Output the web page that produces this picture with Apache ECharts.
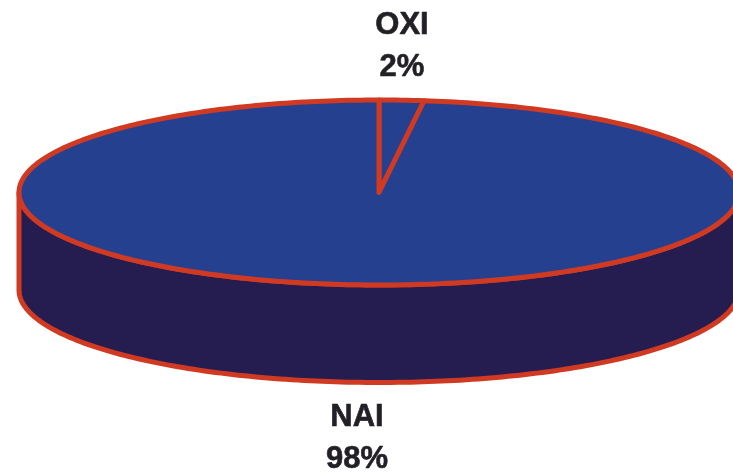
<!DOCTYPE html>
<html>
<head>
<meta charset="utf-8">
<style>html,body{margin:0;padding:0;background:#fff}#c{width:733px;height:472px}</style>
<script src="https://cdn.jsdelivr.net/npm/echarts@6/dist/echarts.min.js"></script>
</head>
<body>
<div id="c"></div>
<script>
const categories = ['OXI', 'NAI'];
const shares = [2, 98];

const cx = 379, cy = 192.5, rx = 360, ry = 92.5, depth = 97.5;
const strokeColor = '#d03a22', topColor = '#25408f', sideColor = '#251c50', textColor = '#231f26';
const labelPos = { OXI: [402, 46.5], NAI: [357, 438] };
const total = shares.reduce((a, b) => a + b, 0);

function pt(t, dy) { // t: fraction of the circle, clockwise from the top
  const a = t * 2 * Math.PI;
  return [cx + rx * Math.sin(a), cy - ry * Math.cos(a) + (dy || 0)];
}
function arc(t0, t1, dy) {
  const n = Math.max(2, Math.ceil((t1 - t0) * 360));
  const out = [];
  for (let i = 0; i <= n; i++) out.push(pt(t0 + (t1 - t0) * i / n, dy));
  return out;
}
function renderItem(params, api) {
  const idx = params.dataIndex;
  const before = shares.slice(0, idx).reduce((a, b) => a + b, 0);
  const t0 = before / total, t1 = (before + api.value(1)) / total;
  const style = { lineWidth: 5, stroke: strokeColor, lineJoin: 'round' };
  const children = [];
  const w0 = Math.max(t0, 0.25), w1 = Math.min(t1, 0.75);
  if (w1 > w0) {
    const top = arc(w0, w1, 0), bot = arc(w0, w1, depth).reverse();
    children.push({ type: 'polygon', shape: { points: top.concat(bot) },
      style: Object.assign({ fill: sideColor }, style) });
  }
  children.push({ type: 'polygon', shape: { points: [[cx, cy]].concat(arc(t0, t1, 0)) },
    style: Object.assign({ fill: topColor }, style) });
  const name = categories[idx];
  children.push({ type: 'text', x: labelPos[name][0], y: labelPos[name][1],
    style: { text: name + '\n' + api.value(1) + '%', fill: textColor, align: 'center', verticalAlign: 'middle',
      font: 'bold 31px "Liberation Sans", Arial, sans-serif', lineHeight: 42,
      stroke: textColor, lineWidth: 0.6 } });
  return { type: 'group', children };
}
const chart = echarts.init(document.getElementById('c'), null, { renderer: 'canvas' });
chart.setOption({
  animation: false,
  backgroundColor: '#ffffff',
  series: [{
    type: 'custom', coordinateSystem: 'none', clip: false, silent: true,
    renderItem,
    data: categories.map((c, i) => [i, shares[i]])
  }]
});
</script>
</body>
</html>
